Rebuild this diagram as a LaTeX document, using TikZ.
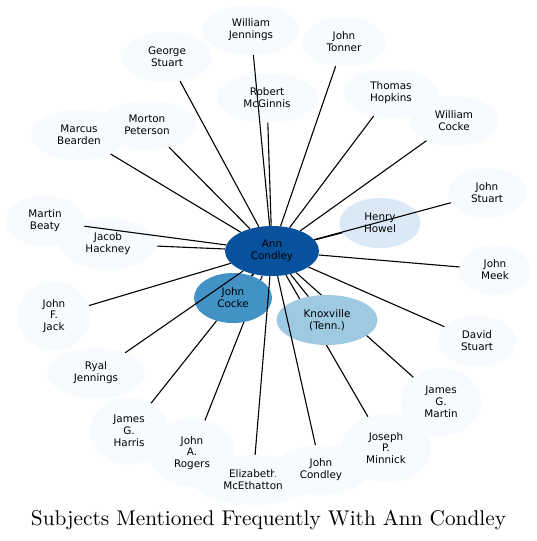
\documentclass[tikz,border=0pt]{standalone}
\usepackage{fontspec}
\setsansfont{DejaVu Sans}
\newfontfamily\titlefont{lmroman10-regular}[Extension=.otf]
\usepackage{tikz}
\usetikzlibrary{shapes.geometric}
\definecolor{hub}{HTML}{08519C}
\definecolor{tierone}{HTML}{4292C6}
\definecolor{tiertwo}{HTML}{9ECAE1}
\definecolor{tierthree}{HTML}{DBE9F6}
\definecolor{leaf}{HTML}{F7FBFF}
\definecolor{ink}{HTML}{000000}
\tikzset{
  subj/.style  ={ellipse, fill=leaf, inner sep=0pt, align=center, text=ink,
                 font=\sffamily\fontsize{10.4}{11.8}\selectfont},
  subjh/.style ={subj, fill=hub},
  subja/.style ={subj, fill=tierone},
  subjb/.style ={subj, fill=tiertwo},
  subjc/.style ={subj, fill=tierthree},
  dims/.style 2 args={minimum width=#1pt, minimum height=#2pt},
  link/.style  ={draw=ink, line width=1.1pt},
  caption/.style={font=\titlefont\fontsize{21.3}{25}\selectfont, anchor=base, text=ink}
}
\begin{document}
\begin{tikzpicture}[x=1pt, y=-1pt]
  \useasboundingbox (0,0) rectangle (537,541);

  % outer ring
  \node[subj, dims={97}{50}]  (wjennings) at (251,30)  {William\\Jennings};
  \node[subj, dims={90}{50}]  (gstuart)   at (167,57)  {George\\Stuart};
  \node[subj, dims={101}{49}] (mcginnis)  at (267,98)  {Robert\\McGinnis};
  \node[subj, dims={84}{49}]  (tonner)    at (344,42)  {John\\Tonner};
  \node[subj, dims={94}{49}]  (hopkins)   at (391,93)  {Thomas\\Hopkins};
  \node[subj, dims={88}{50}]  (wcocke)    at (454,121) {William\\Cocke};
  \node[subj, dims={96}{50}]  (bearden)   at (79,135)  {Marcus\\Bearden};
  \node[subj, dims={99}{49}]  (peterson)  at (147,125) {Morton\\Peterson};
  \node[subj, dims={80}{50}]  (beaty)     at (45,221)  {Martin\\Beaty};
  \node[subj, dims={98}{50}]  (hackney)   at (108,244) {Jacob\\Hackney};
  \node[subj, dims={78}{50}]  (jstuart)   at (487,193) {John\\Stuart};
  \node[subj, dims={71}{50}]  (meek)      at (495,270) {John\\Meek};
  \node[subj, dims={79}{50}]  (dstuart)   at (477,341) {David\\Stuart};
  \node[subj, dims={73}{68}]  (jack)      at (54,316)  {John\\F.\\Jack};
  \node[subj, dims={98}{50}]  (ryal)      at (96,373)  {Ryal\\Jennings};
  \node[subj, dims={78}{67}]  (harris)    at (129,431) {James\\G.\\Harris};
  \node[subj, dims={120}{50}] (mcethatton) at (253,480) {Elizabeth\\McEthatton};
  \node[subj, dims={85}{68}]  (rogers)    at (192,453) {John\\A.\\Rogers};
  \node[subj, dims={94}{50}]  (jcondley)  at (321,470) {John\\Condley};
  \node[subj, dims={90}{68}]  (minnick)   at (386,448) {Joseph\\P.\\Minnick};
  \node[subj, dims={80}{68}]  (martin)    at (441,402) {James\\G.\\Martin};
  \node[subjc, dims={81}{50}] (howel)     at (380,223) {Henry\\Howel};
  \node[subjh, dims={94}{50}] (ann)       at (272,251) {Ann\\Condley};

  % these run under the inner ring
  \draw[link] (ann) -- (harris);
  \draw[link] (ann) -- (rogers);
  \draw[link] (ann) -- (minnick);
  \draw[link] (ann) -- (martin);

  % inner ring
  \node[subjb, dims={101}{50}] (knox)  at (327,320) {Knoxville\\(Tenn.)};
  \node[subja, dims={78}{50}]  (cocke) at (233,298) {John\\Cocke};
  \draw[link] (ann) -- (cocke);
  \draw[link] (ann) -- (knox);

  \draw[link] (ann) -- (wjennings);
  \draw[link] (ann) -- (gstuart);
  \draw[link] (ann) -- (mcginnis);
  \draw[link] (ann) -- (tonner);
  \draw[link] (ann) -- (hopkins);
  \draw[link] (ann) -- (wcocke);
  \draw[link] (ann) -- (bearden);
  \draw[link] (ann) -- (peterson);
  \draw[link] (ann) -- (beaty);
  \draw[link] (ann) -- (hackney);
  \draw[link] (ann) -- (howel);
  \draw[link] (ann) -- (jstuart);
  \draw[link] (ann) -- (meek);
  \draw[link] (ann) -- (dstuart);
  \draw[link] (ann) -- (jack);
  \draw[link] (ann) -- (ryal);
  \draw[link] (ann) -- (mcethatton);
  \draw[link] (ann) -- (jcondley);

  \node[caption] (title) at (268.5,525.5) {Subjects Mentioned Frequently With Ann Condley};
\end{tikzpicture}
\end{document}
